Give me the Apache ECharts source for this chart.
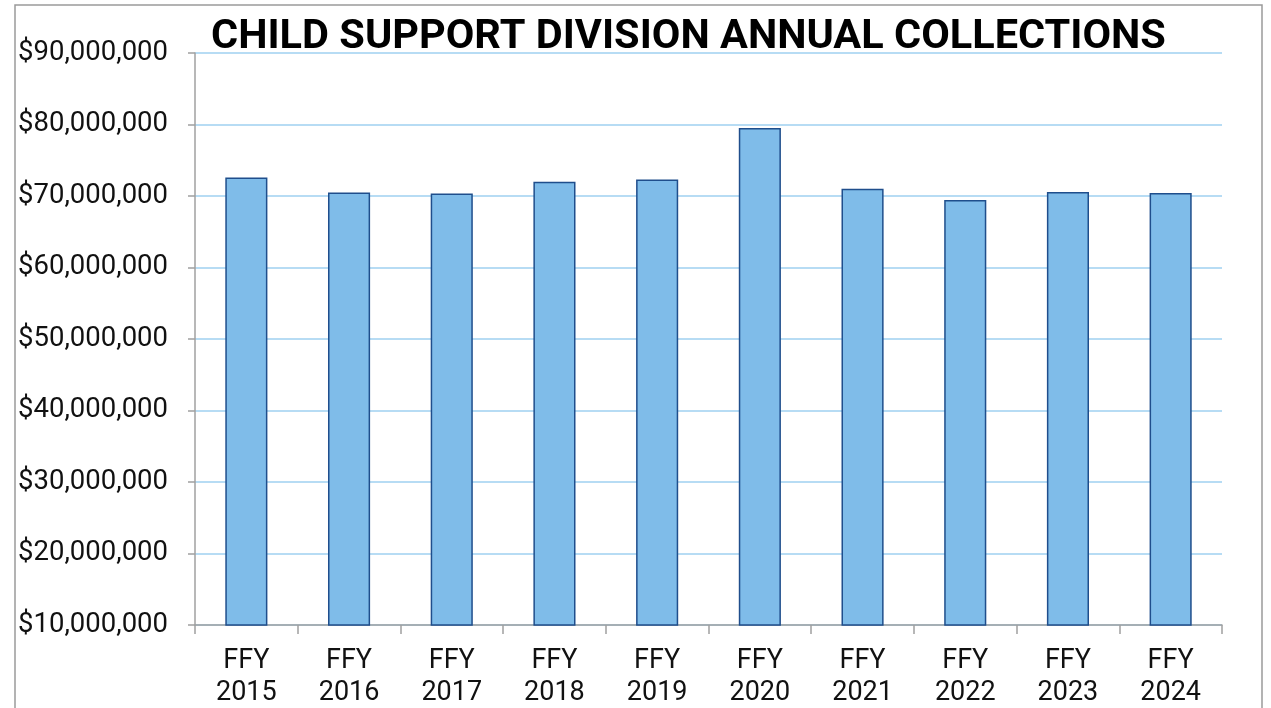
<!DOCTYPE html>
<html>
<head>
<meta charset="utf-8">
<title>Child Support Division Annual Collections</title>
<script src="https://cdn.jsdelivr.net/npm/echarts@6/dist/echarts.min.js"></script>
<style>
  html, body { margin: 0; padding: 0; background: #fff; }
  #main { width: 1271px; height: 708px; }
</style>
</head>
<body>
<div id="main"></div>
<script>
// data
var years = ['FFY\n2015', 'FFY\n2016', 'FFY\n2017', 'FFY\n2018', 'FFY\n2019',
             'FFY\n2020', 'FFY\n2021', 'FFY\n2022', 'FFY\n2023', 'FFY\n2024'];
var collections = [72570000, 70480000, 70340000, 72000000, 72300000,
                   79500000, 71000000, 69440000, 70560000, 70420000];
var yMin = 10000000;
var yMax = 90000000;
var yStep = 10000000;

function money(v) {
    return '$' + v.toString().replace(/\B(?=(\d{3})+(?!\d))/g, ',');
}

var myChart = echarts.init(document.getElementById('main'));
myChart.setOption({
    animation: false,
    backgroundColor: '#fff',
    // thin frame round the chart, open at the bottom like the source
    graphic: [{
        type: 'rect',
        shape: { x: 15, y: 5, width: 1247, height: 720 },
        style: { fill: 'none', stroke: '#9a9a9a', lineWidth: 1.5 },
        silent: true
    }],
    title: {
        text: 'CHILD SUPPORT DIVISION ANNUAL COLLECTIONS',
        left: 206,
        top: 12,
        textStyle: {
            fontFamily: 'Roboto',
            fontWeight: 'bold',
            fontSize: 41.5,
            color: '#000'
        }
    },
    grid: {
        left: 195,
        right: 49,
        top: 53,
        bottom: 83,
        outerBoundsMode: 'none'
    },
    xAxis: {
        type: 'category',
        data: years,
        axisLine: { lineStyle: { color: '#a0a0a0', width: 1.5 } },
        axisTick: { show: true, length: 9, lineStyle: { color: '#a0a0a0', width: 1.5 } },
        axisLabel: {
            margin: 20,
            fontFamily: 'Roboto',
            fontSize: 27,
            lineHeight: 32,
            color: '#111'
        }
    },
    yAxis: {
        type: 'value',
        min: yMin,
        max: yMax,
        interval: yStep,
        axisLine: { show: true, lineStyle: { color: '#a0a0a0', width: 1.5 } },
        axisTick: { show: true, length: 7, lineStyle: { color: '#a0a0a0', width: 1.5 } },
        splitLine: { lineStyle: { color: '#9fd0f0', width: 1.5 } },
        axisLabel: {
            margin: 27,
            fontFamily: 'Roboto',
            fontSize: 27.5,
            color: '#111',
            formatter: money
        }
    },
    series: [{
        type: 'bar',
        data: collections,
        barWidth: '41%',
        itemStyle: {
            color: '#7fbce9',
            borderColor: '#1f4e8c',
            borderWidth: 1.5
        }
    }]
});
</script>
</body>
</html>
